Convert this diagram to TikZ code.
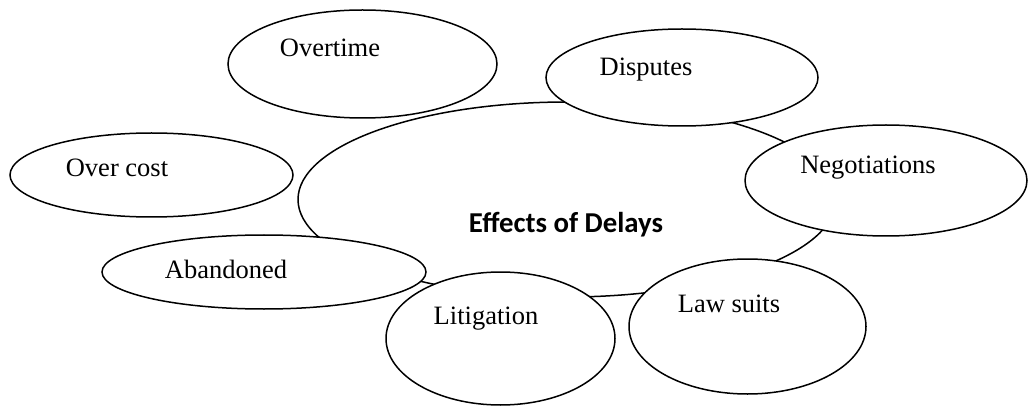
\documentclass[tikz,border=0pt]{standalone}
\usepackage{fontspec}
\setmainfont{Liberation Serif}
\newfontfamily\headfont{Carlito}
\usetikzlibrary{shapes.geometric}
\begin{document}
\begin{tikzpicture}[x=1pt, y=-1pt,
  bubble/.style={ellipse, draw=black, line width=1.5pt, fill=white,
    inner sep=0pt, outer sep=0pt},
  lbl/.style={font=\fontsize{26.5}{30}\selectfont, inner sep=0pt, anchor=base},
  hublbl/.style={font=\headfont\bfseries\fontsize{28.8}{32}\selectfont,
    inner sep=0pt, anchor=base}]
\useasboundingbox (0,0) rectangle (1028,406);
\clip (0,0) rectangle (1028,406);

% central bubble, drawn first so the others sit on top of it
\node[bubble, minimum width=538pt, minimum height=195pt] (hub) at (567,199.5) {};

% surrounding bubbles
\node[bubble, minimum width=269pt, minimum height=108pt] (overtime) at (362.5,64) {};
\node[bubble, minimum width=283pt, minimum height=84pt]  (overcost) at (151.5,175) {};
\node[bubble, minimum width=272pt, minimum height=97pt]  (disputes) at (682,77.5) {};
\node[bubble, minimum width=282pt, minimum height=111pt] (negot)    at (886,180.5) {};
\node[bubble, minimum width=324pt, minimum height=74pt]  (aband)    at (264,272) {};
\node[bubble, minimum width=229pt, minimum height=133pt] (litig)    at (500.5,338.5) {};
\node[bubble, minimum width=237pt, minimum height=135pt] (lawsuits) at (747.5,326.5) {};

% labels
\node[hublbl] (hubtext) at (566,233) {Effects of Delays};
\node[lbl] (overtimetext) at (330,57)  {Overtime};
\node[lbl] (overcosttext) at (117,177) {Over cost};
\node[lbl] (disputestext) at (646,76)  {Disputes};
\node[lbl] (negottext)    at (868,174) {Negotiations};
\node[lbl] (abandtext)    at (226,278) {Abandoned};
\node[lbl] (litigtext)    at (486,324) {Litigation};
\node[lbl] (lawsuitstext) at (729,312) {Law suits};
\end{tikzpicture}
\end{document}
